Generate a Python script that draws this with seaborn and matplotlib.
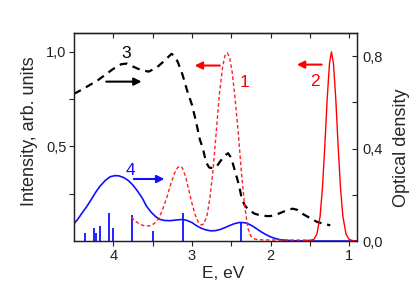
import matplotlib
matplotlib.use("Agg")
import matplotlib.pyplot as plt
import seaborn as sns
import pandas as pd

# ---- data ----
# curve 1: luminescence (left axis), red dashed
c1_E = [3.77, 3.72, 3.66, 3.60, 3.54, 3.48, 3.42, 3.37, 3.32, 3.27, 3.22, 3.18, 3.15, 3.12,
        3.08, 3.04, 3.00, 2.96, 2.92, 2.88, 2.85, 2.81, 2.77, 2.73, 2.69, 2.65, 2.61, 2.58,
        2.55, 2.52, 2.49, 2.45, 2.41, 2.37, 2.33, 2.29, 2.25, 2.20, 2.10, 1.90, 1.70, 1.55]
c1_I = [0.126, 0.105, 0.088, 0.080, 0.080, 0.092, 0.12, 0.17, 0.23, 0.30, 0.36, 0.39, 0.395, 0.385,
        0.34, 0.27, 0.20, 0.14, 0.10, 0.085, 0.09, 0.13, 0.23, 0.38, 0.58, 0.78, 0.92, 0.98,
        0.995, 0.97, 0.90, 0.75, 0.57, 0.36, 0.19, 0.07, 0.025, 0.01, 0.006, 0.005, 0.005, 0.005]

# curve 2: luminescence (left axis), red solid
c2_E = [1.55, 1.50, 1.45, 1.41, 1.37, 1.34, 1.31, 1.28, 1.25, 1.225, 1.20, 1.17, 1.14, 1.11,
        1.08, 1.04, 1.00, 0.95, 0.92]
c2_I = [0.004, 0.004, 0.008, 0.037, 0.13, 0.28, 0.50, 0.75, 0.94, 1.0, 0.94, 0.75, 0.50, 0.28,
        0.13, 0.037, 0.008, 0.002, 0.001]

# curve 3: optical density (right axis), black dashed
c3_E = [4.50, 4.40, 4.30, 4.20, 4.10, 4.00, 3.90, 3.83, 3.75, 3.65, 3.55, 3.45, 3.35, 3.26,
        3.22, 3.18, 3.12, 3.06, 3.00, 2.95, 2.90, 2.86, 2.82, 2.78, 2.73, 2.68, 2.64, 2.58,
        2.54, 2.50, 2.45, 2.40, 2.37, 2.33, 2.28, 2.20, 2.14, 2.05, 2.00, 1.90, 1.80, 1.72,
        1.66, 1.58, 1.50, 1.41, 1.33, 1.24]
c3_D = [0.637, 0.655, 0.675, 0.695, 0.72, 0.745, 0.765, 0.768, 0.755, 0.74, 0.733, 0.75, 0.78, 0.81,
        0.80, 0.775, 0.72, 0.65, 0.59, 0.52, 0.44, 0.40, 0.34, 0.318, 0.315, 0.325, 0.345, 0.37,
        0.38, 0.36, 0.30, 0.24, 0.19, 0.155, 0.135, 0.118, 0.112, 0.108, 0.108, 0.118, 0.132, 0.14,
        0.135, 0.115, 0.100, 0.083, 0.075, 0.068]

# curve 4: optical density (right axis), blue solid
c4_E = [4.50, 4.45, 4.40, 4.34, 4.28, 4.22, 4.17, 4.10, 4.04, 3.98, 3.93, 3.87, 3.81, 3.75,
        3.69, 3.63, 3.58, 3.52, 3.46, 3.41, 3.35, 3.28, 3.20, 3.13, 3.07, 3.00, 2.94, 2.88,
        2.82, 2.76, 2.70, 2.64, 2.58, 2.52, 2.46, 2.40, 2.35, 2.30, 2.24, 2.18, 2.12, 2.06,
        2.00, 1.94, 1.88, 1.80, 1.70, 1.50, 0.90]
c4_D = [0.075, 0.095, 0.12, 0.148, 0.18, 0.213, 0.237, 0.263, 0.278, 0.283, 0.282, 0.275, 0.262, 0.242,
        0.215, 0.185, 0.152, 0.125, 0.105, 0.094, 0.089, 0.088, 0.091, 0.093, 0.09, 0.08, 0.066, 0.055,
        0.048, 0.044, 0.045, 0.05, 0.058, 0.067, 0.075, 0.08, 0.08, 0.077, 0.067, 0.054, 0.04, 0.028,
        0.018, 0.011, 0.006, 0.003, 0.001, 0.0, 0.0]

# calculated transitions (right axis), blue sticks
stick_E = [4.36, 4.25, 4.22, 4.17, 4.06, 4.00, 3.76, 3.50, 3.11, 2.37]
stick_D = [0.036, 0.058, 0.036, 0.067, 0.12, 0.058, 0.112, 0.043, 0.123, 0.080]

x_ticks = [4.0, 3.5, 3.0, 2.5, 2.0, 1.5, 1.0]
x_labels = ["4", "", "3", "", "2", "", "1"]
yl_ticks = [0.25, 0.5, 0.75, 1.0]
yl_labels = ["", "0,5", "", "1,0"]
yr_ticks = [0.0, 0.2, 0.4, 0.6, 0.8]
yr_labels = ["0,0", "", "0,4", "", "0,8"]

# ---- style ----
sns.set_style("ticks")
plt.rcParams["font.family"] = ["Liberation Sans", "DejaVu Sans"]

fig = plt.figure(figsize=(4.15, 2.89), dpi=100)
ax = fig.add_axes([0.1783, 0.166, 0.682, 0.7197])
ax2 = ax.twinx()

df1 = pd.DataFrame({"E": c1_E, "I": c1_I})
df2 = pd.DataFrame({"E": c2_E, "I": c2_I})
df3 = pd.DataFrame({"E": c3_E, "D": c3_D})
df4 = pd.DataFrame({"E": c4_E, "D": c4_D})

sns.lineplot(data=df1, x="E", y="I", ax=ax, color="#ff2020", lw=1.0, sort=False,
             estimator=None, linestyle=(0, (2.6, 1.8)))
sns.lineplot(data=df2, x="E", y="I", ax=ax, color="#ff0000", lw=1.0, sort=False, estimator=None)

ax2.vlines(stick_E, 0, stick_D, color="#1010ff", lw=1.3)
sns.lineplot(data=df4, x="E", y="D", ax=ax2, color="#1010ff", lw=1.2, sort=False, estimator=None)
sns.lineplot(data=df3, x="E", y="D", ax=ax2, color="black", lw=1.6, sort=False,
             estimator=None, linestyle=(0, (3.5, 2.6)))

ax.set_xlim(4.5, 0.9)
ax.set_ylim(0.0, 1.1)
ax2.set_ylim(0.0, 0.9)

ax.set_xticks(x_ticks)
ax.set_xticklabels(x_labels)
ax.set_yticks(yl_ticks)
ax.set_yticklabels(yl_labels)
ax2.set_yticks(yr_ticks)
ax2.set_yticklabels(yr_labels)

ax.tick_params(axis="x", which="both", direction="out", length=3.5, width=0.8,
               labelsize=10.5, top=False, pad=2, colors="#222222")
ax.tick_params(axis="y", direction="out", length=3.5, width=0.8, labelsize=10.5, pad=2,
               colors="#222222")
ax2.tick_params(axis="y", direction="in", length=3.5, width=0.8, labelsize=10.5, pad=4,
                colors="#222222")
# top ticks (inward, unlabeled)
secx = ax.secondary_xaxis("top")
secx.set_xticks(x_ticks)
secx.set_xticklabels([])
secx.tick_params(direction="in", length=3.5, width=0.8, colors="#222222")

for a in (ax, ax2):
    for s in a.spines.values():
        s.set_linewidth(0.9)
        s.set_color("#222222")
secx.spines["top"].set_linewidth(0.9)

ax.set_xlabel("E, eV", fontsize=12.5)
ax.set_ylabel("Intensity, arb. units", fontsize=13)
ax2.set_ylabel("Optical density", fontsize=13)
ax.xaxis.set_label_coords(0.527, -0.12)
ax.yaxis.set_label_coords(-0.127, 0.53)
ax2.yaxis.set_label_coords(1.127, 0.45)

# annotations (left-axis data coordinates)
def arrow(x0, x1, y, color):
    ax.annotate("", xy=(x1, y), xytext=(x0, y),
                arrowprops=dict(arrowstyle="-|>", color=color, lw=1.5, mutation_scale=11,
                                shrinkA=0, shrinkB=0))

ax.text(3.83, 0.99, "3", color="black", fontsize=12.5, ha="center", va="center")
arrow(4.09, 3.64, 0.843, "black")
ax.text(2.33, 0.837, "1", color="#ff0000", fontsize=12.5, ha="center", va="center")
arrow(2.645, 2.965, 0.928, "#ff0000")
ax.text(1.435, 0.845, "2", color="#ff0000", fontsize=12.5, ha="center", va="center")
arrow(1.35, 1.665, 0.933, "#ff0000")
ax.text(3.78, 0.372, "4", color="#1010ff", fontsize=12.5, ha="center", va="center")
arrow(3.74, 3.35, 0.328, "#1010ff")

ax.set_zorder(ax2.get_zorder() + 1)
ax.patch.set_visible(False)

fig.savefig("out.png", dpi=100)
